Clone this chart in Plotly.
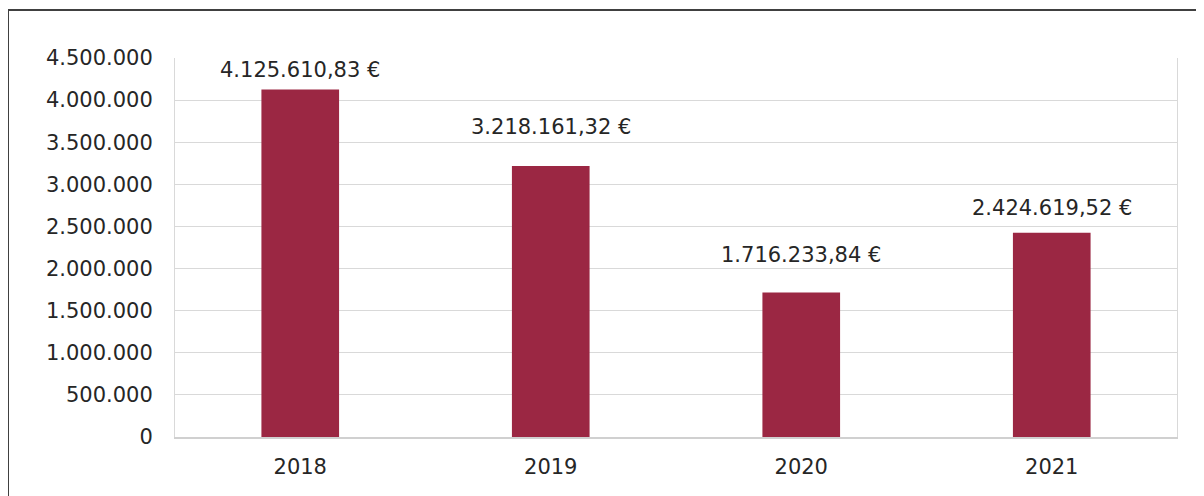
import plotly.graph_objects as go

years = ["2018", "2019", "2020", "2021"]
values = [4125610.83, 3218161.32, 1716233.84, 2424619.52]
y_ticks = [0, 500000, 1000000, 1500000, 2000000, 2500000, 3000000, 3500000, 4000000, 4500000]

# page body adds an 8px offset; compensate
OFF = 8
W, H = 1204 - OFF, 496 - OFF
L, T = 175 - OFF, 58 - OFF
pw, ph = 1002, 379
R, B = W - L - pw, H - T - ph

FONT = "DejaVu Sans"
FS = 21
TXT = "#262626"
fig = go.Figure()
fig.add_trace(go.Bar(
    x=years, y=values, marker_color="#9b2743", marker_line_width=0,
    width=0.31, hoverinfo="skip",
))

def fmt(v):
    return f"{v:,.2f}".replace(",", "X").replace(".", ",").replace("X", ".") + " €"

# label offsets (px) above each bar, as placed in the original
label_pad = [6, 25, 23, 11]
for i, v in enumerate(values):
    fig.add_annotation(
        x=i, y=v, text=fmt(v),
        showarrow=False, yanchor="bottom", yshift=label_pad[i],
        font=dict(family=FONT, size=FS, color=TXT),
    )

fig.update_layout(
    width=W, height=H,
    margin=dict(l=L, r=R, t=T, b=B),
    paper_bgcolor="white", plot_bgcolor="white",
    separators=",.",
    showlegend=False,
    font=dict(family=FONT, size=FS, color=TXT),
    shapes=[
        dict(type="line", xref="paper", yref="paper",
             x0=(0 - L) / pw, x1=(W + 10 - L) / pw,
             y0=1 + (T - 2) / ph, y1=1 + (T - 2) / ph,
             line=dict(color="#404040", width=2)),
        dict(type="line", xref="paper", yref="paper",
             x0=(0 - L) / pw, x1=(0 - L) / pw,
             y0=1 + (T - 2) / ph, y1=-(B + 20) / ph,
             line=dict(color="#404040", width=2)),
    ],
)
fig.update_yaxes(
    range=[0, 4500000], tickvals=y_ticks, tickformat=",d",
    showgrid=True, gridcolor="#d9d9d9", gridwidth=1,
    showline=True, linecolor="#d9d9d9", linewidth=1, mirror=True,
    zeroline=False, ticks="", ticklabelstandoff=17,
    tickfont=dict(family=FONT, size=FS, color=TXT),
)
fig.update_xaxes(
    type="category", range=[-0.5, 3.5], autorange=False,
    showgrid=False, showline=True, linecolor="#d0d0d0", linewidth=2,
    ticks="", ticklabelstandoff=10,
    tickfont=dict(family=FONT, size=FS, color=TXT),
)

fig.write_html("out.html")
